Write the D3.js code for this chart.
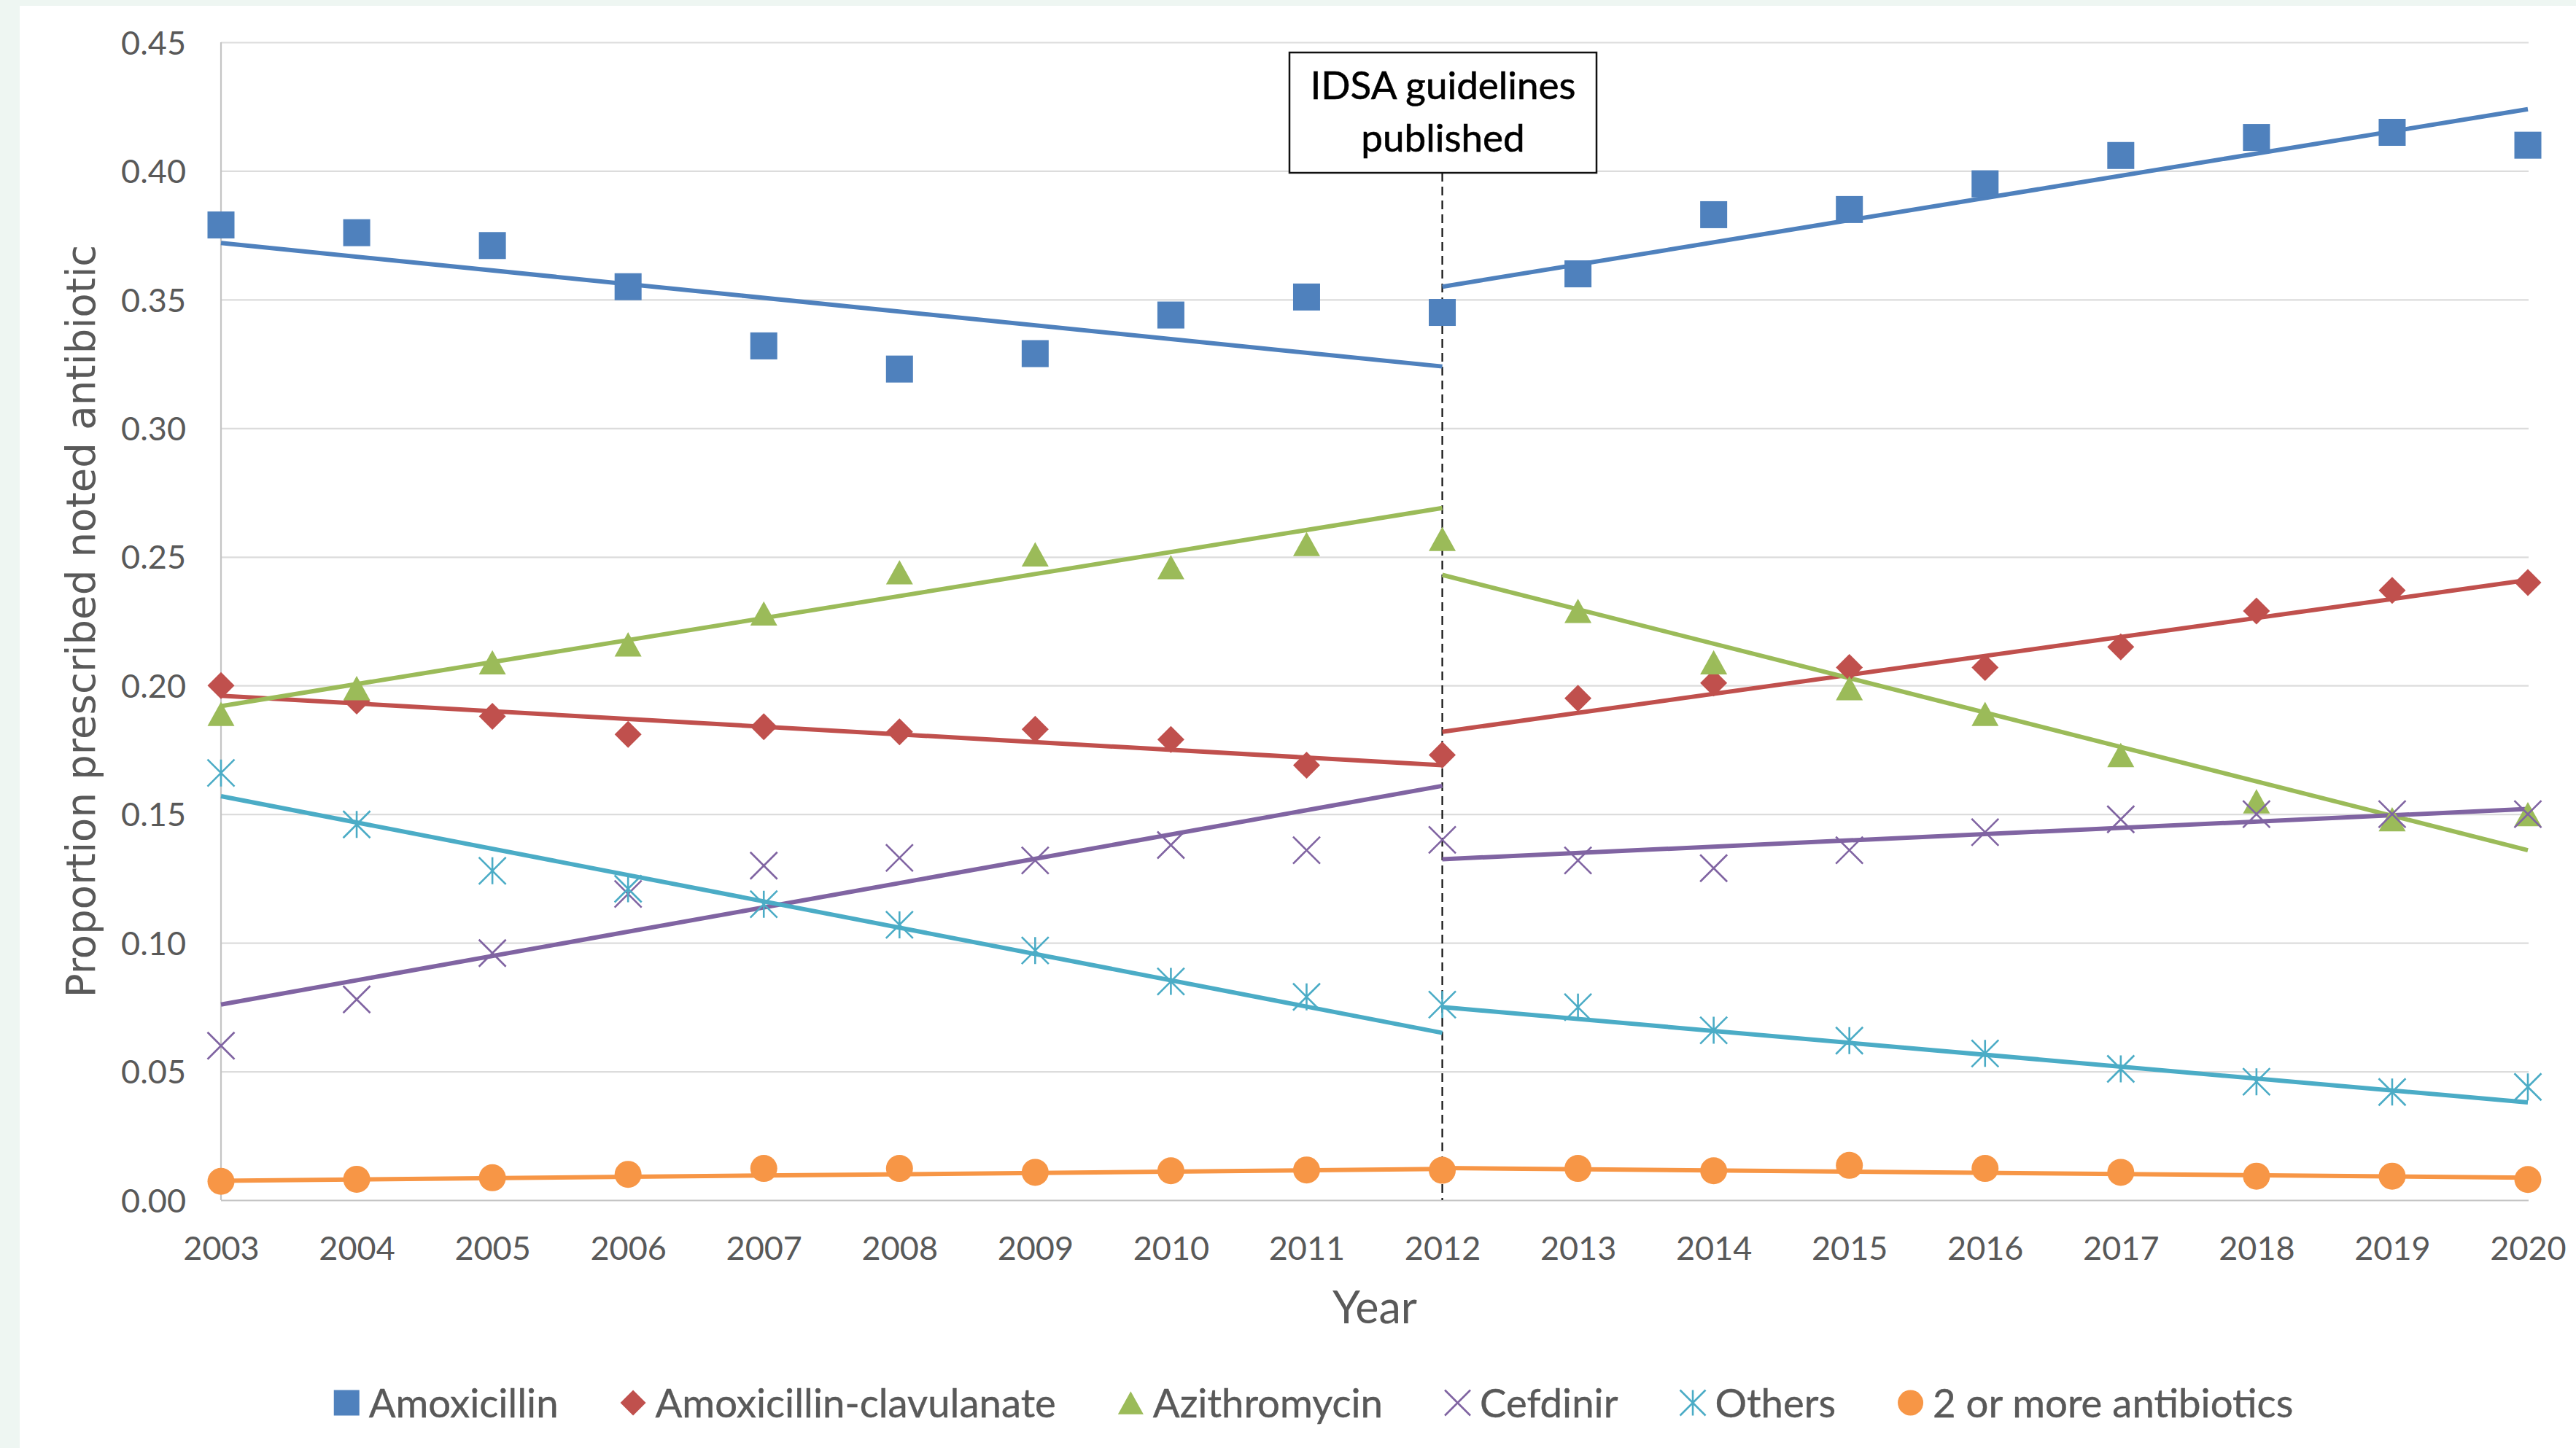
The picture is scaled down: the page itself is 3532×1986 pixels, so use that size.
<!DOCTYPE html>
<html>
<head>
<meta charset="utf-8">
<script src="https://cdn.jsdelivr.net/npm/d3@7"></script>
<style>
  html, body { margin: 0; padding: 0; background: #ffffff; }
  svg { display: block; }
</style>
</head>
<body>
<div id="chart"></div>
<script>
// ---- Data -------------------------------------------------------------
const years = [2003, 2004, 2005, 2006, 2007, 2008, 2009, 2010, 2011,
               2012, 2013, 2014, 2015, 2016, 2017, 2018, 2019, 2020];

// Observed yearly proportions
const amoxicillin = [0.379, 0.376, 0.371, 0.355, 0.332, 0.323, 0.329, 0.344, 0.351,
                     0.345, 0.360, 0.383, 0.385, 0.395, 0.406, 0.413, 0.415, 0.410];
const amoxClavulanate = [0.200, 0.194, 0.188, 0.181, 0.184, 0.182, 0.183, 0.179, 0.169,
                         0.173, 0.195, 0.201, 0.207, 0.207, 0.215, 0.229, 0.237, 0.240];
const azithromycin = [0.189, 0.199, 0.209, 0.216, 0.228, 0.244, 0.251, 0.246, 0.255,
                      0.257, 0.229, 0.209, 0.199, 0.189, 0.173, 0.155, 0.148, 0.150];
const cefdinir = [0.060, 0.078, 0.096, 0.119, 0.130, 0.133, 0.132, 0.138, 0.136,
                  0.140, 0.132, 0.129, 0.136, 0.143, 0.148, 0.150, 0.150, 0.150];
const others = [0.166, 0.146, 0.128, 0.121, 0.115, 0.107, 0.097, 0.085, 0.079,
                0.076, 0.075, 0.066, 0.062, 0.057, 0.051, 0.046, 0.042, 0.044];
const twoOrMore = [0.0073, 0.0081, 0.0087, 0.0100, 0.0123, 0.0123, 0.0108, 0.0114, 0.0117,
                   0.0116, 0.0123, 0.0114, 0.0135, 0.0123, 0.0108, 0.0093, 0.0093, 0.0080];

// Segmented trend fits: [value at first year, value at last year] of each period
const trendPeriods = [[2003, 2012], [2012, 2020]];
const amoxicillinTrend     = [[0.372, 0.324], [0.355, 0.424]];
const amoxClavulanateTrend = [[0.196, 0.169], [0.182, 0.241]];
const azithromycinTrend    = [[0.192, 0.269], [0.243, 0.136]];
const cefdinirTrend        = [[0.076, 0.161], [0.1325, 0.152]];
const othersTrend          = [[0.157, 0.065], [0.075, 0.038]];
const twoOrMoreTrend       = [[0.0075, 0.0121], [0.0125, 0.0087]];

const seriesNames  = ["Amoxicillin", "Amoxicillin-clavulanate", "Azithromycin",
                      "Cefdinir", "Others", "2 or more antibiotics"];
const seriesColors = ["#4f81bd", "#c0504d", "#9bbb59", "#8064a2", "#4bacc6", "#f79646"];
const seriesMarkers = ["square", "diamond", "triangle", "x", "star", "circle"];
const seriesValues = [amoxicillin, amoxClavulanate, azithromycin, cefdinir, others, twoOrMore];
const seriesTrends = [amoxicillinTrend, amoxClavulanateTrend, azithromycinTrend,
                      cefdinirTrend, othersTrend, twoOrMoreTrend];

const yTicks = [0, 0.05, 0.10, 0.15, 0.20, 0.25, 0.30, 0.35, 0.40, 0.45];
const guidelineYear = 2012;
const guidelineLabel = ["IDSA guidelines", "published"];
const xTitle = "Year";
const yTitle = "Proportion prescribed noted antibiotic";

// ---- Layout -----------------------------------------------------------
const W = 3532, H = 1986;
const plot = { left: 303, right: 3466, top: 58, bottom: 1646 };
const gridRight = 3467;
const textFont = "Lato, 'Open Sans', sans-serif";
const textGray = "#595959";

const svg = d3.select("#chart").append("svg")
  .attr("width", W).attr("height", H)
  .attr("viewBox", `0 0 ${W} ${H}`);

// page tint and white chart panel
svg.append("rect").attr("width", W).attr("height", H).attr("fill", "#eef6f2");
svg.append("rect").attr("x", 27).attr("y", 8).attr("width", W - 27).attr("height", H - 8)
  .attr("fill", "#ffffff");

const x = d3.scaleLinear().domain([2003, 2020]).range([plot.left, plot.right]);
const y = d3.scaleLinear().domain([0, 0.45]).range([plot.bottom, plot.top]);

// ---- Axes -------------------------------------------------------------
const yAxis = svg.append("g")
  .attr("transform", `translate(${plot.left},0)`)
  .call(d3.axisLeft(y).tickValues(yTicks).tickFormat(d3.format(".2f"))
    .tickSizeInner(-(gridRight - plot.left)).tickSizeOuter(0).tickPadding(48));
yAxis.select(".domain").remove();
yAxis.selectAll(".tick line")
  .attr("stroke", d => d === 0 ? "#c4c4c4" : "#dcdcdc")
  .attr("stroke-width", 2.2);
yAxis.selectAll(".tick text")
  .attr("fill", textGray).attr("font-family", textFont).attr("font-size", 45)
  .attr("dy", "0.36em");

// vertical axis line
svg.append("line")
  .attr("x1", plot.left).attr("x2", plot.left)
  .attr("y1", plot.top).attr("y2", plot.bottom)
  .attr("stroke", "#c4c4c4").attr("stroke-width", 2.2);

const xAxis = svg.append("g")
  .attr("transform", `translate(0,${plot.bottom})`)
  .call(d3.axisBottom(x).tickValues(years).tickFormat(d3.format("d"))
    .tickSize(0).tickPadding(50));
xAxis.select(".domain").remove();
xAxis.selectAll(".tick text")
  .attr("fill", textGray).attr("font-family", textFont).attr("font-size", 45);

// axis titles
svg.append("text")
  .attr("x", (plot.left + gridRight) / 2).attr("y", 1815)
  .attr("text-anchor", "middle")
  .attr("fill", textGray).attr("font-family", textFont).attr("font-size", 61)
  .text(xTitle);

svg.append("text")
  .attr("transform", `translate(130,${(plot.top + plot.bottom) / 2}) rotate(-90)`)
  .attr("text-anchor", "middle")
  .attr("fill", textGray).attr("font-family", "'DejaVu Sans', Verdana, sans-serif")
  .attr("font-size", 54.5)
  .text(yTitle);

// ---- Guideline marker --------------------------------------------------
const box = { x: 1768, y: 72, w: 421, h: 165 };
svg.append("line")
  .attr("x1", x(guidelineYear)).attr("x2", x(guidelineYear))
  .attr("y1", box.y + box.h).attr("y2", plot.bottom)
  .attr("stroke", "#111").attr("stroke-width", 2.2)
  .attr("stroke-dasharray", "12 7");

// ---- Trend lines -------------------------------------------------------
const line = d3.line().x(d => x(d[0])).y(d => y(d[1]));
const trendLayer = svg.append("g");
seriesTrends.forEach((trend, i) => {
  trend.forEach((seg, k) => {
    const [y0, y1] = trendPeriods[k];
    trendLayer.append("path")
      .attr("d", line([[y0, seg[0]], [y1, seg[1]]]))
      .attr("fill", "none")
      .attr("stroke", seriesColors[i])
      .attr("stroke-width", 6);
  });
});

// ---- Markers -----------------------------------------------------------
function drawMarker(g, type, color, s) {
  const h = s / 2;
  switch (type) {
    case "square":
      g.append("rect").attr("x", -h).attr("y", -h).attr("width", s).attr("height", s)
        .attr("fill", color);
      break;
    case "diamond":
      g.append("path").attr("d", `M0,${-h}L${h},0L0,${h}L${-h},0Z`).attr("fill", color);
      break;
    case "triangle": {
      const th = s * 0.9;
      g.append("path").attr("d", `M0,${-th / 2}L${h},${th / 2}L${-h},${th / 2}Z`)
        .attr("fill", color);
      break;
    }
    case "x":
      g.append("path").attr("d", `M${-h},${-h}L${h},${h}M${h},${-h}L${-h},${h}`)
        .attr("stroke", color).attr("stroke-width", 2.6).attr("fill", "none");
      break;
    case "star":
      g.append("path")
        .attr("d", `M${-h},${-h}L${h},${h}M${h},${-h}L${-h},${h}M0,${-h}L0,${h}`)
        .attr("stroke", color).attr("stroke-width", 2.6).attr("fill", "none");
      break;
    case "circle":
      g.append("circle").attr("r", h).attr("fill", color);
      break;
  }
}

const markerSize = 37;
seriesValues.forEach((vals, i) => {
  const layer = svg.append("g");
  vals.forEach((v, j) => {
    const g = layer.append("g").attr("transform", `translate(${x(years[j])},${y(v)})`);
    drawMarker(g, seriesMarkers[i], seriesColors[i], markerSize);
  });
});

// annotation box drawn above the plot contents
svg.append("rect")
  .attr("x", box.x).attr("y", box.y).attr("width", box.w).attr("height", box.h)
  .attr("fill", "#ffffff").attr("stroke", "#111").attr("stroke-width", 2.5);
const ann = svg.append("text")
  .attr("text-anchor", "middle")
  .attr("font-family", textFont).attr("font-size", 53).attr("fill", "#000")
  .attr("stroke", "#000").attr("stroke-width", 0.6);
guidelineLabel.forEach((t, i) => {
  ann.append("tspan").attr("x", box.x + box.w / 2).attr("y", 136 + i * 72).text(t);
});

// ---- Legend ------------------------------------------------------------
const legend = svg.append("g");
const legendY = 1924;
const legendMarker = 35, markerGap = 13, itemGap = 85;
const items = seriesNames.map((name, i) => {
  const g = legend.append("g");
  const m = g.append("g");
  drawMarker(m, seriesMarkers[i], seriesColors[i], legendMarker);
  const t = g.append("text")
    .attr("font-family", textFont).attr("font-size", 54.5).attr("fill", textGray)
    .attr("stroke", textGray).attr("stroke-width", 0.4)
    .attr("dy", "0.36em")
    .text(name);
  return { g, m, t, w: t.node().getComputedTextLength() };
});
const totalW = d3.sum(items, d => legendMarker + markerGap + d.w) + itemGap * (items.length - 1);
let cx = 1801 - totalW / 2;
items.forEach(d => {
  d.m.attr("transform", `translate(${cx + legendMarker / 2},${legendY})`);
  d.t.attr("x", cx + legendMarker + markerGap).attr("y", legendY);
  cx += legendMarker + markerGap + d.w + itemGap;
});
</script>
</body>
</html>
